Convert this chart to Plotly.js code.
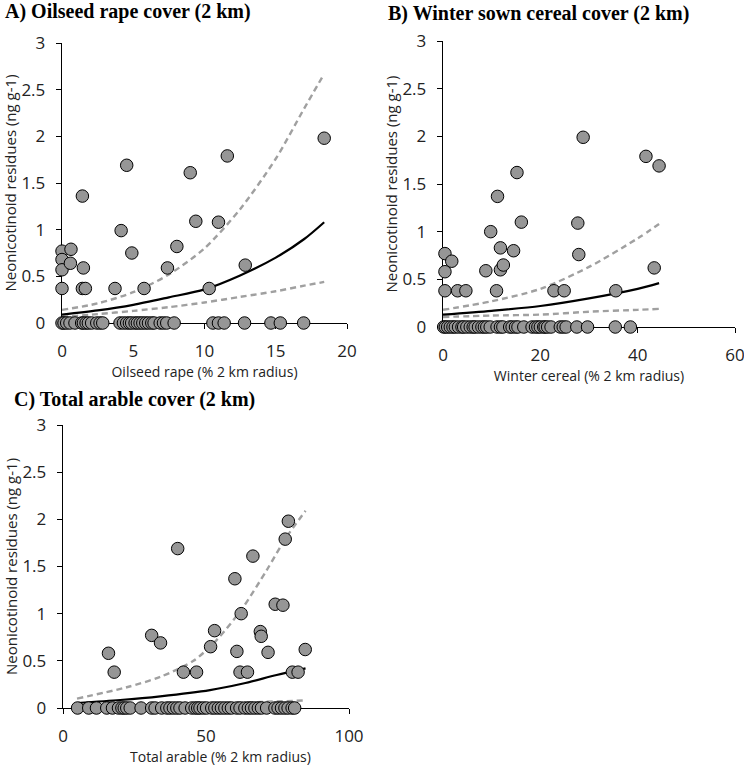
<!DOCTYPE html>
<html>
<head>
<meta charset="utf-8">
<script src="https://cdn.plot.ly/plotly-3.0.1.min.js"></script>
<style>html,body{margin:0;padding:0;background:#fff;}#chart{width:744px;height:766px;}</style>
</head>
<body>
<div id="chart"></div>
<script>
// ---------- Panel A: oilseed rape ----------
const oilseedX = [0,0,0,0,0.63,0.59,1.43,1.5,1.43,1.64,3.72,4.15,4.54,4.9,5.76,7.4,8.06,9.0,9.39,10.33,10.98,11.6,12.86,18.4,
  0,0.14,0.33,0.56,0.91,1.38,1.5,1.69,1.85,2.08,2.44,2.67,2.86,4.07,4.31,4.54,4.73,4.89,5.13,5.29,5.48,5.67,5.88,6.07,6.3,6.46,6.89,7.12,7.35,7.87,10.59,10.98,11.38,12.81,14.66,15.32,16.96];
const oilseedY = [0.77,0.68,0.57,0.37,0.79,0.64,1.36,0.59,0.37,0.37,0.37,0.99,1.69,0.75,0.37,0.59,0.82,1.61,1.09,0.37,1.08,1.79,0.62,1.98,
  0,0,0,0,0,0,0,0,0,0,0,0,0,0,0,0,0,0,0,0,0,0,0,0,0,0,0,0,0,0,0,0,0,0,0,0,0];
const oilseedFitX = [0,2.5,5,7.5,10,12.5,15,17,18.4];
const oilseedFit = [0.09,0.135,0.195,0.275,0.36,0.51,0.70,0.90,1.08];
const oilseedUpper = [0.14,0.21,0.33,0.52,0.80,1.22,1.76,2.3,2.67];
const oilseedLower = [0.065,0.095,0.13,0.17,0.22,0.28,0.34,0.40,0.44];

// ---------- Panel B: winter cereal ----------
const cerealX = [0.4,0.4,0.4,1.8,3.0,4.7,8.8,9.8,11.2,11.0,11.8,11.8,12.4,14.5,15.2,16.1,22.8,24.9,27.7,27.9,28.8,35.5,41.7,43.4,44.4,
  0.14,0.48,0.96,1.5,2.05,2.53,3.2,3.9,4.25,4.9,5.6,6.2,6.6,7.3,8.0,8.5,9.0,9.7,11.1,11.8,12.3,13.7,14.2,14.9,15.4,16.6,18.3,19.0,19.5,20.0,20.7,21.0,21.5,22.2,24.1,24.7,25.3,27.5,29.7,35.4,38.5];
const cerealY = [0.77,0.58,0.38,0.69,0.38,0.38,0.59,1.0,1.37,0.38,0.83,0.6,0.65,0.8,1.62,1.1,0.38,0.38,1.09,0.76,1.99,0.38,1.79,0.62,1.69,
  0,0,0,0,0,0,0,0,0,0,0,0,0,0,0,0,0,0,0,0,0,0,0,0,0,0,0,0,0,0,0,0,0,0,0,0,0,0,0,0,0];
const cerealFitX = [0,10,20,30,40,44.4];
const cerealFit = [0.13,0.17,0.22,0.30,0.40,0.46];
const cerealUpper = [0.18,0.27,0.40,0.63,0.93,1.08];
const cerealLower = [0.105,0.12,0.13,0.16,0.18,0.19];

// ---------- Panel C: total arable ----------
const arableX = [15.9,17.9,31.0,34.1,40.1,42.1,46.7,51.6,53.0,60.1,60.8,61.9,62.3,64.5,66.4,69.0,69.3,71.7,74.2,76.9,77.7,78.8,80.2,82.2,84.7,
  5.1,9.0,11.7,15.3,17.3,19.4,20.6,21.4,22.3,23.5,27.3,31.0,32.2,34.5,36.3,37.4,38.6,39.8,40.9,42.7,45.0,46.2,47.1,47.9,49.1,50.2,52.0,53.1,54.3,55.4,56.6,57.8,58.9,60.7,61.9,63.6,64.8,65.9,67.1,68.3,69.4,71.2,74.1,75.2,76.4,77.6,78.7,80.1,81.0];
const arableY = [0.58,0.38,0.77,0.69,1.69,0.38,0.38,0.65,0.82,1.37,0.6,0.38,1.0,0.38,1.61,0.81,0.76,0.59,1.1,1.09,1.79,1.98,0.38,0.38,0.62,
  0,0,0,0,0,0,0,0,0,0,0,0,0,0,0,0,0,0,0,0,0,0,0,0,0,0,0,0,0,0,0,0,0,0,0,0,0,0,0,0,0,0,0,0,0,0,0,0,0];
const arableFitX = [4.9,20,34,51.4,63,74.7,84.8];
const arableFit = [0.053,0.085,0.124,0.19,0.26,0.35,0.42];
const arableUpperX = [4.9,22.3,34,45.6,53.7,63,71.2,78.1,84.8];
const arableUpper = [0.1,0.22,0.33,0.5,0.72,1.07,1.46,1.81,2.09];
const arableLowerX = [4.9,34,50,70,84.8];
const arableLower = [0.01,0.025,0.045,0.065,0.08];

const titles = ["A) Oilseed rape cover (2 km)", "B) Winter sown cereal cover (2 km)", "C) Total arable cover (2 km)"];
const xTitles = ["Oilseed rape (% 2 km radius)", "Winter cereal (% 2 km radius)", "Total arable (% 2 km radius)"];
const yTitle = "Neonicotinoid residues (ng g-1)";

const W = 744, H = 766;
const dashCol = '#a0a0a0';
function lineTrace(x, y, xa, ya, dashed) {
  return {x: x, y: y, xaxis: xa, yaxis: ya, mode: 'lines', type: 'scatter', hoverinfo: 'skip',
    line: {color: dashed ? dashCol : '#000', width: dashed ? 2.4 : 2.2, dash: dashed ? '6px,4px' : 'solid', shape: 'spline', smoothing: 0.8}};
}
function pts(x, y, xa, ya) {
  return {x: x, y: y, xaxis: xa, yaxis: ya, mode: 'markers', type: 'scatter', cliponaxis: false,
    marker: {size: 12.5, color: '#969696', line: {color: '#000', width: 1}}};
}
const data = [
  lineTrace(oilseedFitX, oilseedUpper, 'x', 'y', true),
  lineTrace(oilseedFitX, oilseedLower, 'x', 'y', true),
  lineTrace(oilseedFitX, oilseedFit, 'x', 'y', false),
  pts(oilseedX, oilseedY, 'x', 'y'),
  lineTrace(cerealFitX, cerealUpper, 'x2', 'y2', true),
  lineTrace(cerealFitX, cerealLower, 'x2', 'y2', true),
  lineTrace(cerealFitX, cerealFit, 'x2', 'y2', false),
  pts(cerealX, cerealY, 'x2', 'y2'),
  lineTrace(arableUpperX, arableUpper, 'x3', 'y3', true),
  lineTrace(arableLowerX, arableLower, 'x3', 'y3', true),
  lineTrace(arableFitX, arableFit, 'x3', 'y3', false),
  pts(arableX, arableY, 'x3', 'y3')
];

const tickFont = {family: 'Open Sans, Noto Sans, sans-serif', size: 17, color: '#222'};
const yTitleFont = {family: 'Open Sans, Noto Sans, sans-serif', size: 15, color: '#222'};
const xTitleFont = {family: 'Open Sans, Noto Sans, sans-serif', size: 14, color: '#222'};
function xax(domPx, range, dtick, anchor, title) {
  return {domain: [domPx[0] / W, domPx[1] / W], range: range, dtick: dtick, tick0: 0, anchor: anchor,
    showgrid: false, zeroline: false, showline: true, linecolor: '#000', linewidth: 1.3,
    ticks: 'outside', ticklen: 5, tickcolor: '#000', tickwidth: 1, ticklabelstandoff: 7,
    ticklabeloverflow: 'allow',
    tickfont: tickFont, layer: 'below traces', fixedrange: true,
    title: {text: title, font: xTitleFont, standoff: 4}};
}
function yax(domPx, anchor, standoff) {
  return {domain: [1 - domPx[1] / H, 1 - domPx[0] / H], range: [0, 3], dtick: 0.5, tick0: 0, anchor: anchor,
    showgrid: false, zeroline: false, showline: true, linecolor: '#000', linewidth: 1.3,
    ticks: 'outside', ticklen: 5, tickcolor: '#000', tickwidth: 1, ticklabelstandoff: 7,
    tickfont: tickFont, layer: 'below traces', fixedrange: true,
    title: {text: yTitle, font: yTitleFont, standoff: standoff}};
}
const xC = xax([63, 349], [0, 100], 50, 'y3', '');
const layout = {
  width: W, height: H, showlegend: false,
  margin: {l: 0, r: 0, t: 0, b: 0, pad: 0},
  paper_bgcolor: '#fff', plot_bgcolor: '#fff',
  xaxis: xax([62, 347], [0, 20], 5, 'y', xTitles[0]),
  yaxis: yax([43, 323], 'x', 4),
  xaxis2: xax([443, 735], [0, 60], 20, 'y2', xTitles[1]),
  yaxis2: yax([41, 327], 'x2', 1),
  xaxis3: xC,
  yaxis3: yax([425, 708], 'x3', 1),
  annotations: [
    {text: '<b>' + titles[0] + '</b>', x: 3 / W, y: 1 - 11 / H},
    {text: '<b>' + titles[1] + '</b>', x: 386 / W, y: 1 - 13 / H},
    {text: '<b>' + titles[2] + '</b>', x: 12 / W, y: 1 - 399 / H}
  ].map(a => Object.assign(a, {xref: 'paper', yref: 'paper', xanchor: 'left', yanchor: 'middle', showarrow: false,
    font: {family: 'Liberation Serif, Times New Roman, serif', size: 20, color: '#000'}})).concat([
    {text: xTitles[2], x: 220 / W, y: 1 - 756 / H, xref: 'paper', yref: 'paper', xanchor: 'center', yanchor: 'middle',
     showarrow: false, font: xTitleFont}
  ])
};
Plotly.newPlot('chart', data, layout, {displayModeBar: false, staticPlot: true});
</script>
</body>
</html>
